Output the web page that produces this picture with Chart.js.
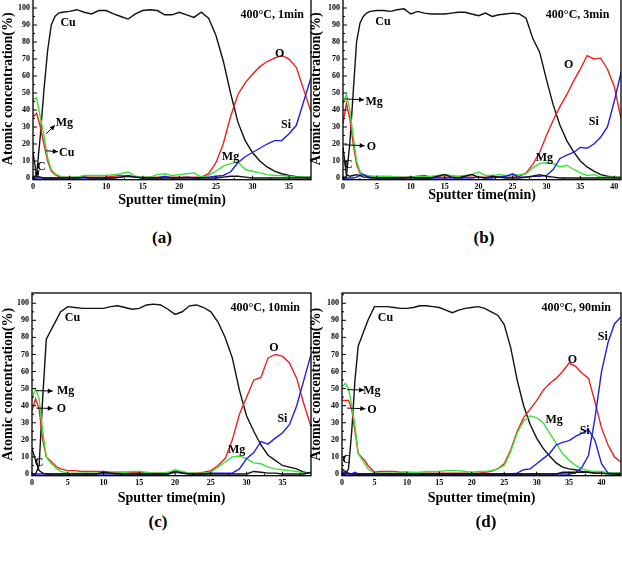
<!DOCTYPE html>
<html>
<head>
<meta charset="utf-8">
<script src="https://cdn.jsdelivr.net/npm/chart.js@4.4.1/dist/chart.umd.min.js"></script>
<style>
html, body { margin: 0; padding: 0; background: #fff; }
#page { position: relative; width: 622px; height: 566px; overflow: hidden; background: #fff; }
.panel { position: absolute; }
.tag { position: absolute; font: bold 17px "Liberation Serif", "Times New Roman", serif; color: #000; transform: translate(-50%, -50%); }
</style>
</head>
<body>
<div id="page">
  <div class="panel" style="left:0px;top:-10px;width:312px;height:219px"><canvas id="chartA"></canvas></div>
  <div class="panel" style="left:308px;top:-10px;width:314px;height:214px"><canvas id="chartB"></canvas></div>
  <div class="panel" style="left:0px;top:285px;width:312px;height:222px"><canvas id="chartC"></canvas></div>
  <div class="panel" style="left:308px;top:285px;width:314px;height:222px"><canvas id="chartD"></canvas></div>
  <div class="tag" style="left:162px;top:238px">(a)</div>
  <div class="tag" style="left:484px;top:238px">(b)</div>
  <div class="tag" style="left:158px;top:522px">(c)</div>
  <div class="tag" style="left:486px;top:522px">(d)</div>
</div>
<script>
//tick labels
const yTicks = [0, 10, 20, 30, 40, 50, 60, 70, 80, 90, 100];
const xTicksA = [0, 5, 10, 15, 20, 25, 30, 35];
const xTicksB = [0, 5, 10, 15, 20, 25, 30, 35, 40];
const xTicksC = [0, 5, 10, 15, 20, 25, 30, 35];
const xTicksD = [0, 5, 10, 15, 20, 25, 30, 35, 40];

//(a) 400C, 1min
const timeA = [0,0.5,1,1.5,2,2.5,3,3.5,4,5,6,7,8,9,10,11,12,13,14,15,16,17,18,19,20,21,22,23,24,25,26,27,28,29,30,31,32,33,34,35,36,37,38];
const cuA = [0,2,25,52,75,90,95,97,97.5,98,99,97.5,96.5,98.5,98.5,96.5,95,93.5,96.5,98.5,99,98.5,96,96,97.5,96,94.5,97.5,94,84,69,50,33,22,15,10,6.5,4,2.5,1.5,0.8,0.5,0.5];
const oA = [36,38,30,20,10,4,2,1,0.5,0.5,0.5,0.5,0.5,0.5,0.5,1,1.5,1,0.5,0.5,0.5,0.5,0.5,0.5,0.5,0.5,0.5,0.5,2.5,9,20,36,49,56,61,65.5,68.5,70.5,72,70,65,52,39];
const mgA = [46,47,36,25,12,5,2.5,1.5,0.5,0.5,0.5,1.5,1.5,1.5,1.5,2,2.5,3.5,1,0.5,0.5,2,2.5,1.5,2,2.5,3,0.5,1.5,4,7,8.5,9.5,5,4,3,2,1.5,1.5,1,0.5,0.5,0.5];
const siA = [0,0,0,0,0,0,0,0,0,0,0,0,0,0,0,0,0.5,1.5,0.5,0,0,0,1,0,0,0.5,0,0,0.5,1,1.5,3.5,9,12.5,15,17.5,20,22,22,26,31,45,59];
const cA = [15,1,0.5,0,0,0,0,0,0,0,0,0.5,0,0,0,0,0.5,1,0.5,0,0,0,0,0,0,0,0,0,0,0,0.5,1,1,0.5,0,0,0,0,0,0,0,0,0];

//(b) 400C, 3min
const timeB = [0,0.5,1,1.5,2,2.5,3,3.5,4,5,6,7,8,9,10,11,12,13,14,15,16,17,18,19,20,21,22,23,24,25,26,27,28,29,30,31,32,33,34,35,36,37,38,39,40,41];
const cuB = [0,1,20,50,80,91,95,97,98,98.5,98.5,98,99,99.5,96.5,98,97,96.5,96.5,96.5,97,97.5,97.5,96.5,95.5,97,95,96,96.5,97,96.5,94,82,74,58,43,31,22,15.5,10,6.5,4,2,1,0.5,0.5];
const oB = [32,44,35,20,8,3,2,1.5,1,0.5,0.5,0.5,0.5,0.5,0.5,1,1.5,0.5,0.5,0.5,0.5,0.5,0.5,0.5,0.5,0.5,0.5,0.5,0.5,0.5,1,3,8,15,25,34,42,49,57,64,72,70,70.5,64,54,35];
const mgB = [44,49,40,25,10,4,2,1.5,1,1,1,1,0.5,0.5,0.5,1,0.5,1,1.5,2,1.5,1,1.5,2,3.5,1.5,1.5,2,1.5,1.5,2,2.5,6,8.5,9,8.5,6.5,7.5,5,3,1.5,2,0.5,0.5,0.5,0.5];
const siB = [0,0,0,0,0.5,1.5,2,1,0.5,0,0,0,0,0,0.5,0,0,0,0,0,0,0,0,0,0.5,0,0,0.5,1,2.5,0.5,0.5,1,1,1.5,5,11.5,13.5,15,18,17.5,20,24,30,45,62];
const cB = [18,2,1,1.5,2,1.5,0.5,0.5,0,0,0,0,0,0,0,0,0,0,1,2,0.5,0,1,2,0.5,0,1,0.5,0,0,0,0.5,1,2,1,0.5,0,0,0,0,0,0,0,0,0,0];

//(c) 400C, 10min
const timeC = [0,0.5,1,1.5,2,2.5,3,3.5,4,5,6,7,8,9,10,11,12,13,14,15,16,17,18,19,20,21,22,23,24,25,26,27,28,29,30,31,32,33,34,35,36,37,38,39];
const cuC = [0,0,5,45,79,83,87,91,95,98,97.5,97,97,97,97,98,98.5,97.5,96.5,97,99,99.5,99,96.5,93.5,95,98.5,99,97.5,95,89,80,68,49,34,25,17,11,8,5,4,3,1,0.5];
const oC = [37,44,38,20,10,8,6,4,3,2,2,1.5,1.5,1.5,1.5,1,1,1,1,1,0.5,0.5,0.5,0.5,1.5,1,0.5,0.5,1,2,5,9,20,35,45,55,56.5,68,70,69,65,56,41,28];
const mgC = [44,50,44,25,10,7,5,3,1.5,0.5,0.5,0.5,0.5,0.5,0.5,0.5,0.5,1,1.5,1.5,1,0.5,0.5,1,2.5,1.5,0.5,0.5,0.5,1,4,7,10,10.5,9,6.5,6,4,3,2.5,2,1.5,0.5,0.5];
const siC = [0,0,0,0,0,0,0,0,0,0,0,0,0,0,0,0,0,0,0,0,0,0,0,0,1,0.5,0,0,0,0.5,0.5,0.5,0.5,3,9,12.5,19,17.5,21,24,29,40,55,70];
const cC = [15,8,2,0.5,0,0,0,0,0,0,0,0,0,0,1,0.5,0,0,0,0,0,0,0,0,1.5,0.5,0,0,0,0,0,0,0,0,0,1.5,1,0.5,0.5,0,0,0,0,1];

//(d) 400C, 90min
const timeD = [0,0.5,1,1.5,2,2.5,3,3.5,4,5,6,7,8,9,10,11,12,13,14,15,16,17,18,19,20,21,22,23,24,25,26,27,28,29,30,31,32,33,34,35,36,37,38,39,40,41,42,43];
const cuD = [0,0,3,25,55,75,80,85,90,98,98,98,97.5,97,97,97.5,98.5,98.5,98,97.5,96,94.5,96,97,97.5,98,97,95,93,87.5,74,55,40,29,21,15,10.5,6.5,4,3,2.5,1.5,1,0.5,0.5,0.5,0.5,0.5];
const oD = [43,43,43,38,25,12,10,8,5,1,1.5,1.5,1.5,1,1,0.5,0.5,0.5,0.5,0.5,0.5,0.5,0.5,0.5,0.5,0.5,1,1.5,3,6,14,25,33,38,43,49,53,56,60,65,63,59,56,42,27,17,10,7];
const mgD = [51,53,50,40,28,12,9,6,3,0.5,0.5,0.5,0.5,0.5,1,1,1,1.5,1.5,1.5,2,2,2,1.5,1,1.5,1.5,2,3,5,13,24,31,34,33,30,24,18,12,8,5,3,2,1.5,1.5,0.5,0.5,0.5];
const siD = [1.5,0.5,0,0,1,0,0,0,0,0,0,0,0,0,0,0,0,0,0,0,0,0,0,0,0,0,0,0,0,0,0,0,0,0,0,0,0,0,0,0,0.5,4,11,33,60,77,88,92];
const si2D = [0,0,0,0,0,0,0,0,0,0,0,0,0,0,0,0,0,0,0,0,0,0,0,0,0,0,0,0,0,0,0,0.5,2.5,3,6,9,12,17,18.5,19.5,22,24,26,19.5,6,0.5,0,0];
const cD = [3,1.5,0.5,0,0,0,0,0,0,0,0,0,0,0,0,0,0,0,0,0,0,0,0,0,0,0,0,0,0,0,0,0,0,0,0,0,0,0,1,1,1,1,1,0.5,0.5,0,0,0];

const serif = '"Liberation Serif", "Times New Roman", serif';
const BLACK = '#111111', RED = '#ee2020', GREEN = '#3ae23a', BLUE = '#2020e0';

function pts(times, vals) {
	return times.map((t, i) => ({x: t, y: vals[i]}));
}

function arrow(ctx, x1, y1, x2, y2) {
	const a = Math.atan2(y2 - y1, x2 - x1);
	ctx.beginPath();
	ctx.moveTo(x1, y1);
	ctx.lineTo(x2, y2);
	ctx.stroke();
	ctx.beginPath();
	ctx.moveTo(x2, y2);
	ctx.lineTo(x2 - 5 * Math.cos(a) + 2.5 * Math.sin(a), y2 - 5 * Math.sin(a) - 2.5 * Math.cos(a));
	ctx.lineTo(x2 - 5 * Math.cos(a) - 2.5 * Math.sin(a), y2 - 5 * Math.sin(a) + 2.5 * Math.cos(a));
	ctx.closePath();
	ctx.fill();
}

//frame, inward ticks and the element labels
const framePlugin = {
	id: 'frame',
	afterDatasetsDraw(chart, args, opts) {
		const {ctx, chartArea: a} = chart;
		const x = chart.scales.x, y = chart.scales.y;
		ctx.save();
		ctx.strokeStyle = '#000';
		ctx.fillStyle = '#000';
		ctx.lineWidth = 1.3;
		ctx.strokeRect(a.left, a.top, a.right - a.left, a.bottom - a.top);
		ctx.lineWidth = 1;
		ctx.beginPath();
		opts.xTicks.forEach(v => {
			const px = x.getPixelForValue(v);
			ctx.moveTo(px, a.bottom);
			ctx.lineTo(px, a.bottom - 4);
			if (v + 2.5 < x.max) {
				const pm = x.getPixelForValue(v + 2.5);
				ctx.moveTo(pm, a.bottom);
				ctx.lineTo(pm, a.bottom - 2);
			}
		});
		yTicks.forEach(v => {
			const py = y.getPixelForValue(v);
			ctx.moveTo(a.left, py);
			ctx.lineTo(a.left + 4, py);
			const pm = y.getPixelForValue(v + 5);
			ctx.moveTo(a.left, pm);
			ctx.lineTo(a.left + 2, pm);
		});
		ctx.stroke();

		ctx.font = 'bold 12px ' + serif;
		ctx.textAlign = 'center';
		ctx.textBaseline = 'middle';
		opts.notes.forEach(n => {
			ctx.fillText(n.text, x.getPixelForValue(n.x), y.getPixelForValue(n.y));
		});
		opts.arrows.forEach(r => {
			arrow(ctx, x.getPixelForValue(r.x1), y.getPixelForValue(r.y1), x.getPixelForValue(r.x2), y.getPixelForValue(r.y2));
		});
		ctx.restore();
	}
};

function makePanel(id, times, series, xTicks, xMax, yWidth, padTop, xHeight, notes, arrows) {
	const ctx = document.getElementById(id).getContext('2d');
	return new Chart(ctx, {
		type: 'line',
		data: {
			datasets: series.map(s => ({
				label: s.label,
				data: pts(times, s.values),
				borderColor: s.color,
				borderWidth: 1.4,
				pointRadius: 0,
				fill: false,
				tension: 0
			}))
		},
		options: {
			responsive: true,
			maintainAspectRatio: false,
			animation: false,
			events: [],
			layout: {padding: {top: padTop, right: 1, left: 0, bottom: 0}},
			plugins: {
				legend: {display: false},
				tooltip: {enabled: false},
				frame: {xTicks: xTicks, notes: notes, arrows: arrows}
			},
			scales: {
				x: {
					type: 'linear',
					min: 0,
					max: xMax,
					afterBuildTicks: s => { s.ticks = xTicks.map(v => ({value: v})); },
					afterFit: s => { s.height = xHeight; },
					grid: {display: false, drawTicks: false},
					border: {display: false},
					ticks: {font: {family: serif, size: 8, weight: 'bold'}, color: '#000', padding: 2, maxRotation: 0, autoSkip: false},
					title: {display: true, text: 'Sputter time(min)', font: {family: serif, size: 14, weight: 'bold'}, color: '#000', padding: 0}
				},
				y: {
					min: -1,
					max: 106,
					afterBuildTicks: s => { s.ticks = yTicks.map(v => ({value: v})); },
					afterFit: s => { s.width = yWidth; },
					grid: {display: false, drawTicks: false},
					border: {display: false},
					ticks: {font: {family: serif, size: 8, weight: 'bold'}, color: '#000', padding: 3},
					title: {display: true, text: 'Atomic concentration(%)', font: {family: serif, size: 14, weight: 'bold'}, color: '#000', padding: 0}
				}
			}
		},
		plugins: [framePlugin]
	});
}

makePanel('chartA', timeA, [
	{label: 'C', values: cA, color: BLACK},
	{label: 'Si', values: siA, color: BLUE},
	{label: 'Mg', values: mgA, color: GREEN},
	{label: 'O', values: oA, color: RED},
	{label: 'Cu', values: cuA, color: BLACK}
], xTicksA, 38, 33, 7, 29.3, [
	{text: 'Cu', x: 4.8, y: 91},
	{text: '400°C, 1min', x: 32.7, y: 96},
	{text: 'O', x: 33.7, y: 73},
	{text: 'Si', x: 34.6, y: 31},
	{text: 'Mg', x: 27, y: 12.3},
	{text: 'Mg', x: 4.3, y: 32.4},
	{text: 'Cu', x: 4.6, y: 15},
	{text: 'C', x: 1.15, y: 6.4}
], [
	{x1: 1.8, y1: 26, x2: 3.0, y2: 31},
	{x1: 1.8, y1: 16, x2: 3.4, y2: 15.5},
	{x1: 0.3, y1: 0.8, x2: 0.85, y2: 4.5}
]);

makePanel('chartB', timeB, [
	{label: 'C', values: cB, color: BLACK},
	{label: 'Si', values: siB, color: BLUE},
	{label: 'Mg', values: mgB, color: GREEN},
	{label: 'O', values: oB, color: RED},
	{label: 'Cu', values: cuB, color: BLACK}
], xTicksB, 41, 35, 7, 24.3, [
	{text: 'Cu', x: 5.9, y: 91.8},
	{text: '400°C, 3min', x: 34.6, y: 96},
	{text: 'O', x: 33.3, y: 66.4},
	{text: 'Si', x: 37, y: 33.2},
	{text: 'Mg', x: 29.7, y: 11.7},
	{text: 'Mg', x: 4.6, y: 45},
	{text: 'O', x: 4.2, y: 18.2},
	{text: 'C', x: 0.8, y: 7.8}
], [
	{x1: 0.25, y1: 46.5, x2: 3.1, y2: 46},
	{x1: 0.25, y1: 19.5, x2: 3.2, y2: 19}
]);

makePanel('chartC', timeC, [
	{label: 'C', values: cC, color: BLACK},
	{label: 'Si', values: siC, color: BLUE},
	{label: 'Mg', values: mgC, color: GREEN},
	{label: 'O', values: oC, color: RED},
	{label: 'Cu', values: cuC, color: BLACK}
], xTicksC, 39, 32, 8, 31.3, [
	{text: 'Cu', x: 5.65, y: 91.6},
	{text: '400°C, 10min', x: 32.6, y: 97},
	{text: 'O', x: 33.8, y: 74},
	{text: 'Si', x: 35, y: 32.4},
	{text: 'Mg', x: 28.6, y: 14},
	{text: 'Mg', x: 4.7, y: 48.4},
	{text: 'O', x: 4.1, y: 38.2},
	{text: 'C', x: 1.0, y: 6.3}
], [
	{x1: 0.6, y1: 48.8, x2: 2.9, y2: 48.6},
	{x1: 0.6, y1: 38.6, x2: 2.9, y2: 38.4}
]);

makePanel('chartD', timeD, [
	{label: 'C', values: cD, color: BLACK},
	{label: 'Si', values: siD, color: BLUE},
	{label: 'Si', values: si2D, color: BLUE},
	{label: 'Mg', values: mgD, color: GREEN},
	{label: 'O', values: oD, color: RED},
	{label: 'Cu', values: cuD, color: BLACK}
], xTicksD, 43, 34, 8, 31.3, [
	{text: 'Cu', x: 6.7, y: 91.6},
	{text: '400°C, 90min', x: 36.1, y: 97},
	{text: 'Si', x: 40.2, y: 80.2},
	{text: 'O', x: 35.5, y: 66.9},
	{text: 'Mg', x: 32.7, y: 31.8},
	{text: 'Si', x: 37.4, y: 25.5},
	{text: 'Mg', x: 4.6, y: 48.4},
	{text: 'O', x: 4.6, y: 37.6},
	{text: 'C', x: 0.7, y: 8.2}
], [
	{x1: 0.8, y1: 49.4, x2: 3.4, y2: 49.2},
	{x1: 0.8, y1: 38.6, x2: 3.6, y2: 38.2}
]);
</script>
</body>
</html>
